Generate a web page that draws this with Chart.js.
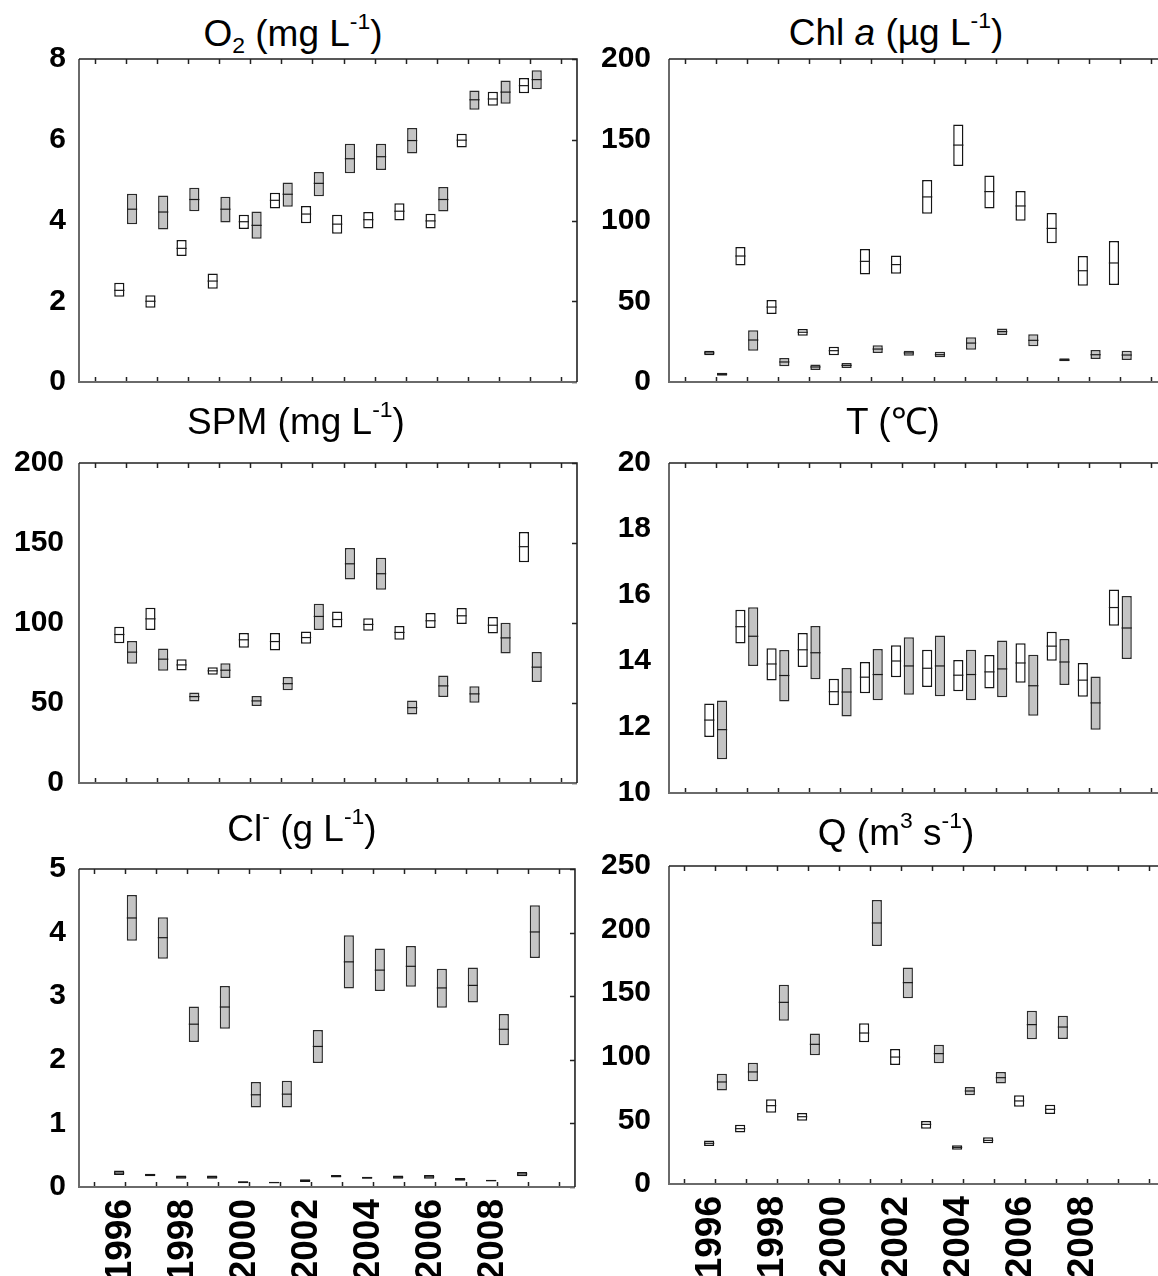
<!DOCTYPE html>
<html>
<head>
<meta charset="utf-8">
<script src="https://cdn.jsdelivr.net/npm/chart.js@4.4.0/dist/chart.umd.min.js"></script>
<style>
  html, body { margin: 0; padding: 0; background: #fff; }
  #page { position: relative; width: 1158px; height: 1276px; overflow: hidden; }
  .title {
    position: absolute;
    font-family: "Liberation Sans", Arial, sans-serif;
    font-size: 37px;
    line-height: 37px;
    white-space: nowrap;
    transform: translateX(-50%);
    color: #000;
  }
  .title sup { font-size: 0.62em; vertical-align: 0.72em; line-height: 0; }
  .title sub { font-size: 0.62em; vertical-align: -0.3em; line-height: 0; }
  canvas { position: absolute; }
</style>
</head>
<body>
<div id="page"></div>
<script>
// years with data, axis tick categories and the labels shown under the bottom panels
const years = [1996, 1997, 1998, 1999, 2000, 2001, 2002, 2003, 2004, 2005, 2006, 2007, 2008, 2009];
const yearTicks = [1995, 1996, 1997, 1998, 1999, 2000, 2001, 2002, 2003, 2004, 2005, 2006, 2007, 2008, 2009, 2010];
const tickLabels = ['1996', '1998', '2000', '2002', '2004', '2006', '2008'];

// each entry: [low, median, high]
const o2White = [[2.11,2.27,2.46],[1.84,2.0,2.15],[3.12,3.31,3.52],[2.31,2.5,2.69],[3.79,3.97,4.14],[4.3,4.5,4.69],[3.93,4.16,4.36],[3.67,3.91,4.14],[3.8,4.02,4.21],[4.0,4.23,4.43],[3.8,3.99,4.17],[5.81,5.99,6.15],[6.84,7.01,7.19],[7.15,7.34,7.53]];
const o2Grey = [[3.91,4.28,4.66],[3.78,4.21,4.62],[4.23,4.52,4.81],[3.95,4.28,4.59],[3.55,3.88,4.22],[4.34,4.65,4.94],[4.6,4.92,5.2],[5.17,5.53,5.9],[5.25,5.58,5.9],[5.66,5.98,6.29],[4.22,4.52,4.83],[6.74,6.99,7.22],[6.89,7.18,7.47],[7.25,7.49,7.72]];

const chlWhite = [[16.5,18.0,19.4],[72.2,78.0,83.6],[42.1,46.4,50.8],[28.7,30.8,32.8],[16.5,19.4,21.9],[66.5,74.7,82.4],[67.1,72.7,78.4],[104.2,114.6,125.1],[133.7,146.7,159.5],[107.5,117.9,127.8],[99.8,109.0,118.3],[85.9,95.1,104.6],[59.6,68.9,78.0],[60.1,73.7,87.3]];
const chlGrey = [[3.9,4.9,5.8],[19.4,26.0,32.0],[9.7,12.4,14.9],[7.4,9.3,10.9],[8.7,10.3,11.8],[18.0,20.4,22.7],[16.3,18.0,19.4],[15.3,16.9,18.8],[20.0,24.1,27.7],[29.1,31.2,33.2],[22.1,25.8,29.5],[12.8,13.6,14.7],[14.2,16.9,19.8],[13.6,16.7,19.4]];

const spmWhite = [[87.4,92.8,97.6],[95.7,102.6,109.5],[70.3,73.8,77.4],[67.6,70.1,72.4],[84.5,89.5,93.8],[82.8,88.4,93.8],[87.0,90.9,94.7],[97.2,102.2,107.2],[95.1,99.1,103.0],[89.5,94.1,98.2],[96.8,101.4,106.2],[99.3,104.5,109.3],[93.4,98.6,103.7],[137.9,147.7,156.8]];
const spmGrey = [[74.5,81.8,88.8],[70.1,77.4,84.0],[50.9,54.0,56.5],[65.7,70.5,74.9],[48.2,51.3,54.4],[58.0,62.1,66.3],[95.7,104.1,112.0],[127.2,137.0,146.8],[120.8,130.8,140.8],[42.8,47.1,51.5],[53.8,60.7,67.2],[50.1,55.7,60.5],[80.9,90.7,100.1],[63.2,72.4,81.8]];

const tWhite = [[11.7,12.21,12.71],[14.53,15.04,15.55],[13.41,13.91,14.39],[13.82,14.34,14.85],[12.66,13.07,13.46],[13.02,13.51,13.97],[13.51,14.0,14.48],[13.21,13.78,14.34],[13.08,13.57,14.03],[13.17,13.67,14.18],[13.34,13.94,14.54],[14.01,14.45,14.89],[12.92,13.42,13.94],[15.07,15.62,16.17]];
const tGrey = [[11.02,11.92,12.8],[13.85,14.75,15.63],[12.77,13.56,14.33],[13.45,14.25,15.06],[12.32,13.06,13.79],[12.81,13.59,14.36],[12.98,13.85,14.72],[12.93,13.85,14.77],[12.81,13.59,14.34],[12.9,13.76,14.62],[12.34,13.25,14.19],[13.27,13.97,14.67],[11.92,12.73,13.53],[14.06,15.0,15.97]];

const clWhite = [[0.19,0.22,0.26],[0.17,0.19,0.21],[0.13,0.155,0.18],[0.13,0.155,0.18],[0.06,0.075,0.09],[0.06,0.07,0.08],[0.08,0.1,0.12],[0.15,0.17,0.19],[0.13,0.145,0.16],[0.13,0.155,0.18],[0.13,0.16,0.19],[0.1,0.12,0.14],[0.09,0.1,0.115],[0.17,0.205,0.235]];
const clGrey = [[3.87,4.23,4.59],[3.59,3.92,4.24],[2.28,2.56,2.84],[2.49,2.83,3.16],[1.25,1.45,1.65],[1.25,1.46,1.67],[1.95,2.21,2.47],[3.12,3.54,3.96],[3.08,3.41,3.75],[3.15,3.47,3.79],[2.82,3.13,3.43],[2.9,3.17,3.45],[2.23,2.48,2.72],[3.6,4.01,4.43]];

const qWhite = [[29.9,32.0,34.1],[40.4,43.5,46.6],[56.1,61.6,66.6],[49.8,52.9,55.8],null,[111.4,118.7,126.3],[93.6,99.8,106.1],[43.5,46.9,49.5],[27.0,28.8,30.4],[32.0,34.3,36.7],[60.8,65.3,69.7],[55.0,58.7,62.4],null,null];
const qGrey = [[73.6,80.2,86.7],[80.7,88.1,95.4],[128.4,142.8,156.7],[101.2,109.8,118.4],null,[187.1,205.2,223.3],[146.0,158.3,170.3],[94.9,102.5,109.5],[69.7,73.1,76.3],[79.1,83.6,88.1],[113.7,125.3,136.3],[114.0,123.4,132.3],null,null];

const FONT = '"Liberation Sans", Arial, sans-serif';
const TITLE_SIZE = 37;
const AREA_W = 498;

// panel layout: chart area position in page pixels
const panels = [
  { title: 'O<sub>2</sub> (mg L<sup>-1</sup>)', white: o2White, grey: o2Grey, min: 0, max: 8, step: 2,
    left: 79, top: 59, h: 323, pad: 13, tx: 293, tBase: 46, labels: false },
  { title: 'Chl <i>a</i> (µg L<sup>-1</sup>)', white: chlWhite, grey: chlGrey, min: 0, max: 200, step: 50,
    left: 669, top: 59, h: 323, pad: 18, tx: 896, tBase: 45, labels: false },
  { title: 'SPM (mg L<sup>-1</sup>)', white: spmWhite, grey: spmGrey, min: 0, max: 200, step: 50,
    left: 79, top: 463, h: 320, pad: 15, tx: 296, tBase: 434, labels: false },
  { title: 'T (℃)', white: tWhite, grey: tGrey, min: 10, max: 20, step: 2,
    left: 669, top: 463, h: 330, pad: 18, tx: 893, tBase: 434, labels: false },
  { title: 'Cl<sup>-</sup> (g L<sup>-1</sup>)', white: clWhite, grey: clGrey, min: 0, max: 5, step: 1,
    left: 79, top: 869, h: 318, pad: 13, tx: 302, tBase: 841, labels: true },
  { title: 'Q (m<sup>3</sup> s<sup>-1</sup>)', white: qWhite, grey: qGrey, min: 0, max: 250, step: 50,
    left: 669, top: 866, h: 318, pad: 18, tx: 896, tBase: 845, labels: true }
];

function pick(arr, k) {
  return yearTicks.map(function (y) {
    const i = years.indexOf(y);
    const v = i < 0 ? null : arr[i];
    if (!v) return null;
    return k === 'range' ? [v[0], v[2]] : v[1];
  });
}

// median line across each box
const medianPlugin = {
  id: 'medians',
  afterDatasetsDraw(chart) {
    const ctx = chart.ctx;
    const yScale = chart.scales.y;
    ctx.save();
    ctx.strokeStyle = '#1a1a1a';
    ctx.lineWidth = 1.2;
    chart.data.datasets.forEach(function (ds, di) {
      const meta = chart.getDatasetMeta(di);
      meta.data.forEach(function (bar, j) {
        const m = ds.medians[j];
        if (m == null) return;
        const p = bar.getProps(['x', 'width'], true);
        const y = yScale.getPixelForValue(m);
        ctx.beginPath();
        ctx.moveTo(p.x - p.width / 2, y);
        ctx.lineTo(p.x + p.width / 2, y);
        ctx.stroke();
      });
    });
    ctx.restore();
  }
};

// frame around the plot with inward tick marks
const framePlugin = {
  id: 'frame',
  afterDraw(chart) {
    const ctx = chart.ctx;
    const a = chart.chartArea;
    const xs = chart.scales.x, ys = chart.scales.y;
    ctx.save();
    ctx.strokeStyle = '#222';
    ctx.lineWidth = 1.5;
    ctx.beginPath();
    xs.ticks.forEach(function (t, i) {
      const x = Math.round(xs.getPixelForTick(i)) + 0.5;
      ctx.moveTo(x, a.top); ctx.lineTo(x, a.top + 5);
      ctx.moveTo(x, a.bottom); ctx.lineTo(x, a.bottom - 5);
    });
    ys.ticks.forEach(function (t) {
      const y = Math.round(ys.getPixelForValue(t.value)) + 0.5;
      ctx.moveTo(a.right, y); ctx.lineTo(a.right - 5, y);
    });
    ctx.stroke();

    ctx.lineWidth = 2;
    ctx.strokeStyle = '#6a6a6a';
    ctx.beginPath();
    ctx.moveTo(a.left, a.top); ctx.lineTo(a.left, a.bottom); ctx.lineTo(a.right, a.bottom);
    ctx.stroke();
    ctx.strokeStyle = '#222';
    ctx.lineWidth = 1.6;
    ctx.beginPath();
    ctx.moveTo(a.left, a.top); ctx.lineTo(a.right, a.top); ctx.lineTo(a.right, a.bottom);
    ctx.stroke();
    ctx.restore();
  }
};

function config(p) {
  const xh = p.labels ? 110 : 2;
  return {
    type: 'bar',
    data: {
      labels: yearTicks.map(String),
      datasets: [
        {
          data: pick(p.white, 'range'),
          medians: pick(p.white, 'median'),
          backgroundColor: '#ffffff',
          borderColor: '#151515',
          borderWidth: 1.5,
          borderSkipped: false,
          categoryPercentage: 0.82,
          barPercentage: 0.8
        },
        {
          data: pick(p.grey, 'range'),
          medians: pick(p.grey, 'median'),
          backgroundColor: '#c4c4c4',
          borderColor: '#2a2a2a',
          borderWidth: 1.5,
          borderSkipped: false,
          categoryPercentage: 0.82,
          barPercentage: 0.8
        }
      ]
    },
    options: {
      responsive: false,
      maintainAspectRatio: false,
      animation: false,
      layout: { padding: { top: 24, right: 4, left: 0, bottom: 0 } },
      plugins: { legend: { display: false }, tooltip: { enabled: false } },
      scales: {
        x: {
          type: 'category',
          offset: true,
          grid: { display: false, drawTicks: false, offset: false },
          border: { display: false },
          ticks: {
            display: p.labels,
            autoSkip: false,
            minRotation: 90,
            maxRotation: 90,
            padding: 12,
            labelOffset: -5,
            color: '#000',
            font: { family: FONT, size: 37, weight: 'bold' },
            callback: function (v) {
              const l = this.getLabelForValue(v);
              return tickLabels.includes(l) ? l : '';
            }
          },
          afterFit: function (s) { s.height = xh; }
        },
        y: {
          min: p.min,
          max: p.max,
          grid: { display: false, drawTicks: false },
          border: { display: false },
          ticks: {
            stepSize: p.step,
            padding: p.pad,
            color: '#000',
            font: { family: FONT, size: 30, weight: 'bold' }
          },
          afterFit: function (s) { s.width = 90; }
        }
      }
    },
    plugins: [medianPlugin, framePlugin]
  };
}

const page = document.getElementById('page');

panels.forEach(function (p) {
  const t = document.createElement('div');
  t.className = 'title';
  t.innerHTML = p.title;
  t.style.left = p.tx + 'px';
  t.style.top = Math.round(p.tBase - 0.8465 * TITLE_SIZE) + 'px';
  page.appendChild(t);

  const cv = document.createElement('canvas');
  page.appendChild(cv);

  // first pass: measure how far the chart area sits from the canvas edges
  cv.width = 700;
  cv.height = p.h + 200;
  let chart = new Chart(cv, config(p));
  const a = chart.chartArea;
  const offL = a.left, offT = a.top;
  const offR = cv.width - a.right, offB = cv.height - a.bottom;
  chart.destroy();

  // second pass: size the canvas so the area lands where the panel wants it
  cv.width = Math.round(offL + AREA_W + offR);
  cv.height = Math.round(offT + p.h + offB);
  cv.style.left = Math.round(p.left - offL) + 'px';
  cv.style.top = Math.round(p.top - offT) + 'px';
  new Chart(cv, config(p));
});
</script>
</body>
</html>
